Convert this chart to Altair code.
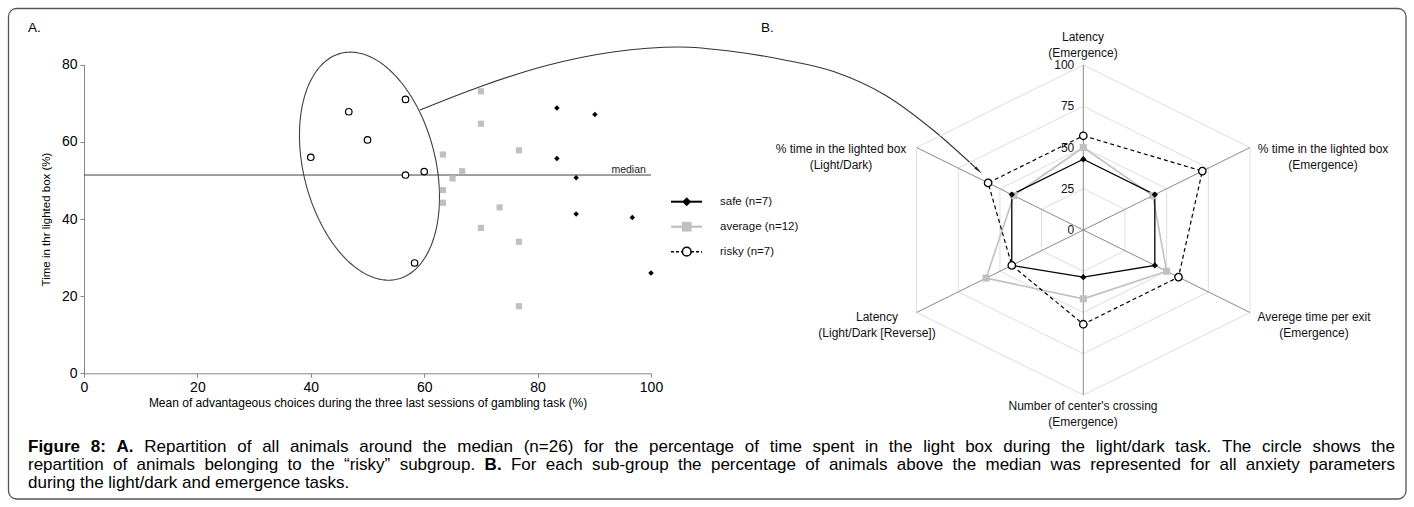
import altair as alt
import numpy as np
import pandas as pd

# ---------------- data ----------------
safe_x = [83.4, 90.1, 83.4, 86.8, 86.8, 96.7, 100.0]
safe_y = [68.8, 67.1, 55.7, 50.7, 41.3, 40.4, 26.0]
average_x = [70.0, 70.0, 63.3, 76.7, 66.7, 65.0, 63.3, 63.3, 73.3, 70.0, 76.7, 76.7]
average_y = [73.1, 64.7, 56.7, 57.8, 52.4, 50.5, 47.5, 44.2, 43.0, 37.7, 34.1, 17.4]
risky_x = [40.0, 46.7, 50.0, 56.7, 56.7, 60.0, 58.3]
risky_y = [56.0, 67.8, 60.5, 71.0, 51.4, 52.3, 28.6]
median_y = 51.4

x_ticks = [0, 20, 40, 60, 80, 100]
y_ticks = [0, 20, 40, 60, 80]
legend_labels = ["safe (n=7)", "average (n=12)", "risky (n=7)"]

radar_axes = [
    ["Latency", "(Emergence)"],
    ["% time in the lighted box", "(Emergence)"],
    ["Averege time per exit", "(Emergence)"],
    ["Number of center's crossing", "(Emergence)"],
    ["Latency", "(Light/Dark [Reverse])"],
    ["% time in the lighted box", "(Light/Dark)"],
]
radar_safe = [42.9, 42.9, 42.9, 28.6, 42.9, 42.9]
radar_average = [50.0, 41.7, 50.0, 41.7, 58.3, 41.7]
radar_risky = [57.1, 71.4, 57.1, 57.1, 42.9, 57.1]
radar_ticks = [0, 25, 50, 75, 100]

# caption: list of lines, each a list of (text, bold) pieces
caption_lines = [
    [("Figure 8: A.", True),
     ("Repartition of all animals around the median (n=26) for the percentage of time spent "
      "in the light box during the light/dark task. The circle shows the", False)],
    [("repartition of animals belonging to the \u201crisky\u201d subgroup.", False),
     ("B.", True),
     ("For each sub-group the percentage of animals above the median was represented "
      "for all anxiety parameters", False)],
    [("during the light/dark and emergence tasks.", False)],
]
caption_justified = [True, True, False]

# ---------------- layout ----------------
FONT = "Liberation Sans"
W, H = 1414, 507
SC_X = [84, 651]
SC_Y = [373.3, 64.7]
kx = (SC_X[1] - SC_X[0]) / 100.0
ky = (SC_Y[0] - SC_Y[1]) / 80.0
RC = (1083.3, 230.0)      # radar centre (px)
RR = (192.5, 165.0)       # radar radius x / y (px)

xsc = alt.Scale(domain=[0, 100], range=SC_X, nice=False, zero=False)
ysc = alt.Scale(domain=[0, 80], range=SC_Y, nice=False, zero=False)
common_axis = dict(grid=False, domainColor="#888888", tickColor="#888888", tickSize=4,
                   labelFont=FONT, labelFontSize=14, labelColor="#000000", labelFlush=False,
                   titleFont=FONT, titleFontWeight="normal", titleColor="#000000")
xax = alt.Axis(values=x_ticks, offset=-(H - SC_Y[0]), labelPadding=3, titlePadding=3,
               titleFontSize=12,
               title="Mean of advantageous choices during the three last sessions of gambling task (%)",
               **common_axis)
yax = alt.Axis(values=y_ticks, offset=-SC_X[0], labelPadding=3, titlePadding=10,
               titleFontSize=11.5, title="Time in thr  lighted box (%)", **common_axis)


def SX(f="x"):
    return alt.X(f"{f}:Q", scale=xsc, axis=xax)


def SY(f="y"):
    return alt.Y(f"{f}:Q", scale=ysc, axis=yax)


# ---------------- panel A : scatter ----------------
median_df = pd.DataFrame({"x": [0], "x2": [100], "y": [median_y]})
median_rule = alt.Chart(median_df).mark_rule(color="#404040", strokeWidth=1).encode(
    x=SX(), x2="x2:Q", y=SY())
median_txt = alt.Chart(pd.DataFrame({"x": [99.1], "y": [median_y], "t": ["median"]})).mark_text(
    font=FONT, fontSize=10.5, align="right", baseline="middle", dy=-5, color="#222").encode(
    x=SX(), y=SY(), text="t:N")

# ellipse around the risky sub-group (centre in data units, axes in px)
ell_cx, ell_cy = 50.35, 53.7
ell_a, ell_b, ell_tilt = 116.4, 66.0, 75.9
t = np.linspace(0, 2 * np.pi, 181)
th = np.radians(ell_tilt)
ox = ell_a * np.cos(th) * np.cos(t) - ell_b * np.sin(th) * np.sin(t)
oy = ell_a * np.sin(th) * np.cos(t) + ell_b * np.cos(th) * np.sin(t)
ell_df = pd.DataFrame({"i": np.arange(len(t)), "x": ell_cx + ox / kx, "y": ell_cy - oy / ky})
ellipse = alt.Chart(ell_df).mark_line(color="#404040", strokeWidth=1.1).encode(
    x=SX(), y=SY(), order="i:Q")

# curved arrow from the ellipse to panel B (scatter data units, beyond the axis)
arrow_x = [59.26, 69.84, 81.6, 93.3, 105.1, 114.46, 123.1, 132.45, 141.27, 149.74, 157.6]
arrow_y = [68.26, 74.30, 79.79, 83.29, 84.59, 83.42, 81.35, 78.11, 72.15, 63.07, 52.8]
arrow_df = pd.DataFrame({"i": range(len(arrow_x)), "x": arrow_x, "y": arrow_y})
arrow = alt.Chart(arrow_df).mark_line(color="#333333", strokeWidth=1.1, interpolate="monotone").encode(
    x=SX(), y=SY(), order="i:Q")
arrow_head = alt.Chart(arrow_df.tail(1)).mark_point(
    shape="wedge", filled=True, color="#222222", size=110, angle=132, opacity=1).encode(
    x=SX(), y=SY())

avg_pts = alt.Chart(pd.DataFrame({"x": average_x, "y": average_y})).mark_point(
    shape="square", filled=True, color="#c0c0c0", size=38, opacity=1).encode(x=SX(), y=SY())
safe_pts = alt.Chart(pd.DataFrame({"x": safe_x, "y": safe_y})).mark_point(
    shape="diamond", filled=True, color="#000000", size=30, opacity=1).encode(x=SX(), y=SY())
risky_pts = alt.Chart(pd.DataFrame({"x": risky_x, "y": risky_y})).mark_point(
    shape="circle", filled=True, fill="white", stroke="#000000", strokeWidth=1.2, size=42,
    opacity=1).encode(x=SX(), y=SY())

scatter = alt.layer(median_rule, ellipse, arrow, arrow_head, avg_pts, safe_pts, risky_pts, median_txt)

# ---------------- panel B : radar ----------------
rxs = alt.Scale(domain=[-100, 100], range=[RC[0] - RR[0], RC[0] + RR[0]], nice=False, zero=False)
rys = alt.Scale(domain=[-100, 100], range=[RC[1] + RR[1], RC[1] - RR[1]], nice=False, zero=False)
RX = alt.X("rx:Q", scale=rxs, axis=None)
RY = alt.Y("ry:Q", scale=rys, axis=None)
polar = dict(rx="datum.value * sin(datum.idx * PI / 3)", ry="datum.value * cos(datum.idx * PI / 3)")

grid_df = pd.DataFrame([{"level": lv, "idx": i, "value": lv} for lv in radar_ticks[1:] for i in range(7)])
grid = alt.Chart(grid_df).transform_calculate(**polar).mark_line(color="#dedede", strokeWidth=1).encode(
    x=RX, y=RY, detail="level:N", order="idx:Q")

spoke_df = pd.DataFrame({"idx": list(range(6)), "value": [100] * 6})
spokes = alt.Chart(spoke_df).transform_calculate(cx="0", cy="0", **polar).mark_rule(
    color="#8a8a8a", strokeWidth=1).encode(
    x=alt.X("cx:Q", scale=rxs, axis=None), y=alt.Y("cy:Q", scale=rys, axis=None),
    x2="rx:Q", y2="ry:Q")

tick_df = pd.DataFrame({"idx": [0] * len(radar_ticks), "value": radar_ticks,
                        "t": [str(v) for v in radar_ticks]})
tick_lbl = alt.Chart(tick_df).transform_calculate(**polar).mark_text(
    font=FONT, fontSize=12, align="right", baseline="middle", dx=-9, color="#111").encode(
    x=RX, y=RY, text="t:N")


def series_df(vals):
    return pd.DataFrame({"idx": list(range(7)), "value": [vals[i % 6] for i in range(7)]})


def radar_line(vals, **kw):
    return alt.Chart(series_df(vals)).transform_calculate(**polar).mark_line(**kw).encode(
        x=RX, y=RY, order="idx:Q")


def radar_pts(vals, **kw):
    return alt.Chart(series_df(vals).iloc[:6]).transform_calculate(**polar).mark_point(
        opacity=1, **kw).encode(x=RX, y=RY)


radar = alt.layer(
    grid, spokes,
    radar_line(radar_average, color="#c0c0c0", strokeWidth=1.6),
    radar_line(radar_safe, color="#000000", strokeWidth=1.3),
    radar_line(radar_risky, color="#000000", strokeWidth=1.2, strokeDash=[4, 3]),
    radar_pts(radar_average, shape="square", filled=True, color="#c0c0c0", size=50),
    radar_pts(radar_safe, shape="diamond", filled=True, color="#000000", size=40),
    radar_pts(radar_risky, shape="circle", filled=True, fill="white", stroke="#000000",
              strokeWidth=1.3, size=55),
    tick_lbl,
)

# ---------------- pixel-placed annotations ----------------
PXX = alt.X("x:Q", scale=None, axis=None)
PXY = alt.Y("y:Q", scale=None, axis=None)


def px_text(rows, size, weight="normal", align="left", color="#000000"):
    return alt.Chart(pd.DataFrame(rows)).mark_text(
        font=FONT, fontSize=size, fontWeight=weight, align=align, baseline="middle", color=color
    ).encode(x=PXX, y=PXY, text="t:N")


# legend of panel A
LEG_Y = [201.7, 226.7, 251.7]
LEG_X0, LEG_X1, LEG_XM, LEG_XT = 671, 702, 686.7, 720
leg_layers = []
leg_line_styles = [dict(color="#000000", strokeWidth=2),
                   dict(color="#c0c0c0", strokeWidth=2.2),
                   dict(color="#000000", strokeWidth=1.5, strokeDash=[3, 2])]
leg_pt_styles = [dict(shape="diamond", filled=True, color="#000000", size=80),
                 dict(shape="square", filled=True, color="#c0c0c0", size=95),
                 dict(shape="circle", filled=True, fill="white", stroke="#000000", strokeWidth=1.5, size=75)]
for yy, ls, ps in zip(LEG_Y, leg_line_styles, leg_pt_styles):
    one = pd.DataFrame({"x": [LEG_X0], "x2": [LEG_X1], "xm": [LEG_XM], "y": [yy]})
    leg_layers.append(alt.Chart(one).mark_rule(**ls).encode(x=PXX, x2="x2:Q", y=PXY))
    leg_layers.append(alt.Chart(one).mark_point(opacity=1, **ps).encode(
        x=alt.X("xm:Q", scale=None, axis=None), y=PXY))
leg_text = px_text({"x": [LEG_XT] * 3, "y": LEG_Y, "t": legend_labels}, 11.5, color="#111")

# radar axis labels
lab_pos = [(1083, 37), (1323, 149), (1314, 317), (1083, 406), (877, 317), (841, 149)]
lab_rows = {"x": [], "y": [], "t": []}
for (lx, ly), lines in zip(lab_pos, radar_axes):
    for k, line in enumerate(lines):
        lab_rows["x"].append(lx)
        lab_rows["y"].append(ly + 16 * k)
        lab_rows["t"].append(line)
radar_labels = px_text(lab_rows, 12, align="center", color="#111")

panel_lbl = px_text({"x": [28, 761], "y": [28, 28], "t": ["A.", "B."]}, 13.5)

# caption, justified word by word (Arial/Helvetica metrics)
_chars = (" abcdefghijklmnopqrstuvwxyzABCDEFGHIJKLMNOPQRSTUVWXYZ0123456789"
          ".,:;()/=-%'\u201c\u201d[]")
_widths = ([278] +
           [556, 556, 500, 556, 556, 278, 556, 556, 222, 222, 500, 222, 833, 556, 556, 556, 556,
            333, 500, 278, 556, 500, 722, 500, 500, 500] +
           [667, 667, 722, 722, 667, 611, 778, 722, 278, 500, 667, 556, 833, 722, 778, 667, 778,
            722, 667, 611, 722, 667, 944, 667, 667, 611] +
           [556] * 10 +
           [278, 278, 278, 278, 333, 333, 278, 584, 333, 889, 191, 333, 333, 278, 278])
REG_W = dict(zip(_chars, _widths))
BOLD_W = {"F": 611, "i": 278, "g": 611, "u": 611, "r": 389, "e": 556, " ": 278, "8": 556,
          ":": 333, "A": 722, ".": 278, "B": 722}


def em(s, bold=False):
    table = BOLD_W if bold else REG_W
    return sum(table.get(c, 556) for c in s) / 1000.0


CAP_SIZE = 17
CAP_X0, CAP_X1 = 28, 1395
CAP_Y = [447, 465, 483]
rows_b = {"x": [], "y": [], "t": []}
rows_r = {"x": [], "y": [], "t": []}
for line, yy, just in zip(caption_lines, CAP_Y, caption_justified):
    words = [(w, b) for piece, b in line for w in piece.split(" ")]
    if just:
        total = sum(em(w, b) * CAP_SIZE for w, b in words)
        gap = (CAP_X1 - CAP_X0 - total) / (len(words) - 1)
        xx = CAP_X0
        for w, b in words:
            rows = rows_b if b else rows_r
            rows["x"].append(xx)
            rows["y"].append(yy)
            rows["t"].append(w)
            xx += em(w, b) * CAP_SIZE + gap
    else:
        xx = CAP_X0
        for piece, b in line:
            rows = rows_b if b else rows_r
            rows["x"].append(xx)
            rows["y"].append(yy)
            rows["t"].append(piece)
            xx += (em(piece, b) + em(" ")) * CAP_SIZE
cap_bold = px_text(rows_b, CAP_SIZE, weight="bold")
cap_reg = px_text(rows_r, CAP_SIZE)

frame = alt.Chart(pd.DataFrame({"a": [0]})).mark_rect(
    cornerRadius=8, fillOpacity=0, stroke="#555555", strokeWidth=1.3).encode(
    x=alt.value(8.5), x2=alt.value(1406), y=alt.value(8.5), y2=alt.value(499))

chart = alt.layer(
    scatter, radar, frame, leg_text, radar_labels, panel_lbl, cap_bold, cap_reg, *leg_layers
).resolve_scale(x="independent", y="independent").properties(
    width=W, height=H, padding=0, background="white",
    autosize=alt.AutoSizeParams(type="none"),
).configure_view(strokeWidth=0)

chart.save("out.html", embed_options={"renderer": "svg", "actions": False})
